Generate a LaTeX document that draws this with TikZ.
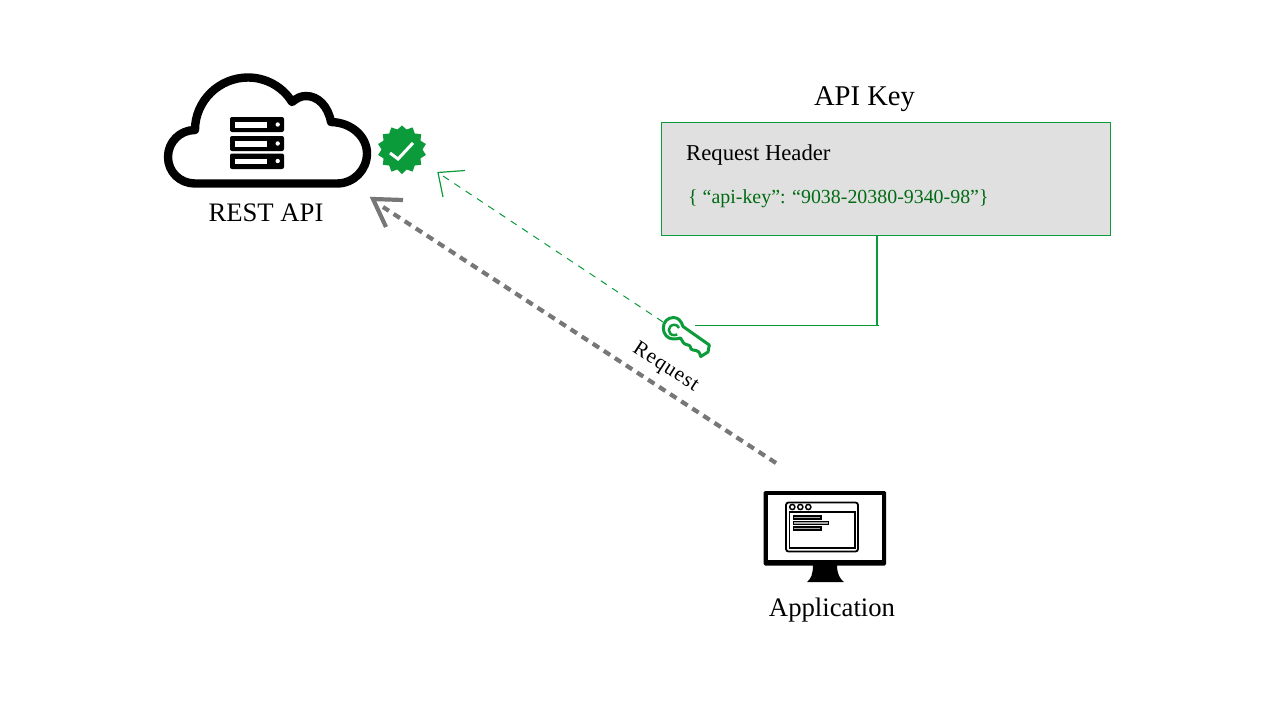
\documentclass[tikz,border=0pt]{standalone}
\usepackage{fontspec}
\setmainfont{Liberation Serif}
\definecolor{kgreen}{HTML}{0B9B3A}
\definecolor{dgreen}{HTML}{006B12}
\definecolor{rgray}{HTML}{777777}
\tikzset{
  lbl/.style={inner sep=0pt,text=black,anchor=base},
  keyline/.style={kgreen,line width=1.2pt},
}
\begin{document}
\begin{tikzpicture}[x=1pt,y=-1pt]
\useasboundingbox (0,0) rectangle (1280,715);
% cloud
\draw[line width=8.4pt,line join=round,black]
  (195,183.5) -- (337,183.5)
  .. controls (353.6,183.5) and (367,170) .. (367,153.5)
  .. controls (367,137) and (352,122.5) .. (331,122)
  .. controls (328,106) and (318,96) .. (306,96)
  .. controls (301,96) and (297,98) .. (292,102)
  .. controls (283,87) and (266,77.5) .. (248,77.5)
  .. controls (219,77.5) and (195,101) .. (195,130)
  .. controls (180,130) and (168,142) .. (168,157)
  .. controls (168,172) and (180,183.5) .. (195,183.5) -- cycle;
% server
\foreach \a/\b in {117/132,136/151,153.5/169}{
  \fill[black,rounded corners=2pt] (230,\a) rectangle (284,\b);
  \fill[white] (235,\a+5) rectangle (267,\a+10.5);
  \fill[white] (277.7,\a+7.5) circle (2.2);
}
% badge
\fill[kgreen] (402,125.5)
  \foreach \i in {1,...,27}{ -- ({402+(mod(\i,2)==1 ? 20.5 : 24.5)*sin(\i*180/14)},{149.5-(mod(\i,2)==1 ? 20.5 : 24.5)*cos(\i*180/14)}) } -- cycle;
\draw[white,line width=3pt] (390,153) -- (398,159) -- (413,143);
% labels
\node[lbl] (rest) at (266,221) {\fontsize{26.7}{30}\selectfont REST API};
\node[lbl] (apikey) at (864.5,105) {\fontsize{28.6}{32}\selectfont API Key};
\node[lbl] (appl) at (832,616) {\fontsize{26.7}{30}\selectfont Application};
% box
\node[draw=kgreen,line width=1pt,fill=black!12,minimum width=448.5pt,minimum height=113pt,inner sep=0pt,anchor=north west] (box) at (661,121.5) {};
\node[lbl,anchor=base west] (hdr) at (686,160) {\fontsize{22.7}{26}\selectfont Request Header};
\node[lbl,anchor=base west,text=dgreen] (val) at (688,203) {\fontsize{19.9}{24}\selectfont \{ “api-key”: “9038-20380-9340-98”\}};
% connector
\coordinate (boxdrop) at (877,235);
\coordinate (corner) at (877,326);
\coordinate (cornerR) at (878.5,325.5);
\coordinate (keyR) at (695,325.5);
\draw[keyline] (boxdrop) -- (corner);
\draw[keyline] (cornerR) -- (keyR);
% key
\begin{scope}[line width=3pt,kgreen,line join=round]
\draw (683,326.5) -- (709.3,345) -- (708,352) -- (700.7,356.5)
  .. controls (699.5,352) and (698,350.5) .. (696,350.5)
  .. controls (693,350.5) and (692,349.5) .. (691,349)
  .. controls (690.5,345.5) and (688.5,344.5) .. (686.5,344.5)
  .. controls (684,344.5) and (682,341) .. (680.5,338)
  .. controls (679,338.5) and (676,339) .. (673.5,339)
  .. controls (667.5,339) and (663.3,334) .. (663.3,328)
  .. controls (663.3,322) and (667.5,317.5) .. (673.5,317.5)
  .. controls (678,317.5) and (681.5,321) .. (683,326.5) -- cycle;
\draw[line width=2.5pt] (679,328)
  .. controls (678,325.5) and (676,324.8) .. (674.3,324.8)
  .. controls (671,324.8) and (668.8,327.5) .. (668.8,330)
  .. controls (668.8,333) and (671,335.2) .. (674.3,335.2)
  .. controls (675.3,335.2) and (676.3,335) .. (677.3,334.5);
\end{scope}
% green arrow
\coordinate (gtip) at (438,172.5);
\coordinate (gstart) at (443,176);
\coordinate (gend) at (663,322);
\draw[kgreen,line width=1pt,dash pattern=on 7pt off 6.52pt] (gend) -- (gstart);
\draw[keyline,line join=miter] (465,170.5) -- (gtip) -- (443,197);
% gray arrow
\coordinate (rtip) at (373,199);
\coordinate (rstart) at (383,207);
\coordinate (rend) at (776,463);
\draw[rgray,line width=4.2pt,dash pattern=on 7.5pt off 5.7pt] (rend) -- (rstart);
\draw[rgray,line width=4.2pt,line join=miter] (403,200) -- (rtip) -- (386,227);
% request label
\node[lbl,rotate=-33,anchor=center] (req) at (665.5,367.5) {\fontsize{21}{24}\selectfont\addfontfeature{LetterSpace=5}Request};
% monitor
\fill[black,rounded corners=1.5pt] (763.5,491) rectangle (886,565.5);
\fill[white] (767.5,495) rectangle (882,560);
\fill[black] (813,565) -- (837,565) .. controls (837,574) and (840,579) .. (844,582) -- (807,582) .. controls (811,579) and (813,574) .. (813,565) -- cycle;
\draw[black,line width=1.8pt,rounded corners=2.5pt] (786,502.5) rectangle (858,551.5);
\draw[black,line width=1.8pt] (789.5,512) rectangle (855,548);
\foreach \c in {792.3,800.3,808.3}{\draw[black,line width=1.5pt] (\c,507) circle (2.6);}
\foreach \a/\b in {516/821,521.5/828.5,527/821}{
  \draw[black,fill=black!35,line width=1.2pt] (793.5,\a) rectangle (\b,\a+3);
}
\end{tikzpicture}
\end{document}
